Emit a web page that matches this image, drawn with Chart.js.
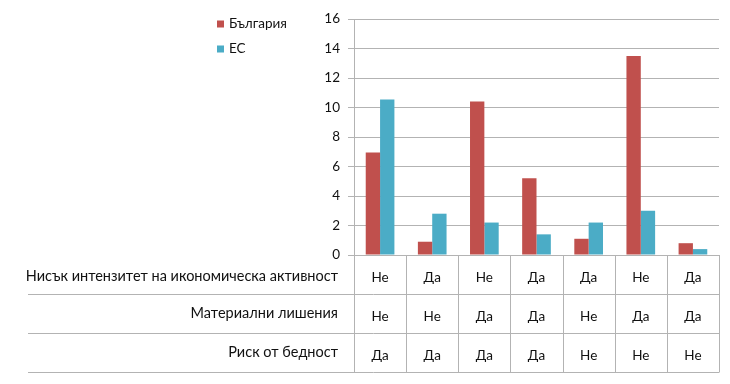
<!DOCTYPE html>
<html>
<head>
<meta charset="utf-8">
<script src="https://cdn.jsdelivr.net/npm/chart.js@4/dist/chart.umd.min.js"></script>
<style>
  html, body { margin: 0; padding: 0; background: #ffffff; }
  #wrap { width: 730px; height: 384px; }
</style>
</head>
<body>
<div id="wrap"><canvas id="c" width="730" height="384"></canvas></div>
<script>
const categories = ["1", "2", "3", "4", "5", "6", "7"];
const bulgaria = [6.95, 0.9, 10.4, 5.2, 1.1, 13.5, 0.8];
const eu = [10.55, 2.8, 2.2, 1.4, 2.2, 3.0, 0.4];
const seriesNames = ["България", "ЕС"];
const yTicks = [0, 2, 4, 6, 8, 10, 12, 14, 16];
const rowLabels = ["Нисък интензитет на икономическа активност", "Материални лишения", "Риск от бедност"];
const rowLow = ["Не", "Да", "Не", "Да", "Да", "Не", "Да"];
const rowDep = ["Не", "Не", "Да", "Да", "Не", "Да", "Да"];
const rowRisk = ["Да", "Да", "Да", "Да", "Не", "Не", "Не"];
const tableRows = [rowLow, rowDep, rowRisk];

const RED = "#C0504D";
const BLUE = "#4BACC6";
const LINE = "#b3b3b3";
const FONT = "Lato, 'Open Sans', sans-serif";
const TEXT = "#111111";

const tablePlugin = {
  id: "tableAndLegend",
  afterDraw(chart) {
    const ctx = chart.ctx;
    const xs = chart.scales.x;
    const ca = chart.chartArea;
    const n = categories.length;
    const step = (xs.right - xs.left) / n;
    const top = ca.bottom;
    const rowH = 39;
    const tableLeft = 28;
    ctx.save();
    ctx.strokeStyle = LINE;
    ctx.lineWidth = 1;
    for (let r = 1; r <= tableRows.length; r++) {
      const y = Math.round(top + r * rowH) + 0.5;
      ctx.beginPath();
      ctx.moveTo(tableLeft, y);
      ctx.lineTo(xs.right, y);
      ctx.stroke();
    }
    for (let i = 0; i <= n; i++) {
      const x = Math.round(xs.left + i * step) + 0.5;
      ctx.beginPath();
      ctx.moveTo(x, top);
      ctx.lineTo(x, top + tableRows.length * rowH + 0.5);
      ctx.stroke();
    }
    ctx.fillStyle = TEXT;
    ctx.textBaseline = "middle";
    ctx.textAlign = "right";
    ctx.font = "14.5px " + FONT;
    rowLabels.forEach((lab, r) => {
      ctx.fillText(lab, 338, top + r * rowH + rowH / 2 + (r === 0 ? 2 : 0));
    });
    ctx.textAlign = "center";
    ctx.font = "13.5px " + FONT;
    tableRows.forEach((row, r) => {
      row.forEach((v, i) => {
        ctx.fillText(v, xs.getPixelForValue(i), top + r * rowH + rowH / 2 + 3);
      });
    });
    const colors = [RED, BLUE];
    const legY = [24, 49];
    ctx.textAlign = "left";
    ctx.font = "13.5px " + FONT;
    seriesNames.forEach((name, k) => {
      ctx.fillStyle = colors[k];
      ctx.fillRect(217, legY[k] - 3.5, 7, 7);
      ctx.fillStyle = TEXT;
      ctx.fillText(name, 229, legY[k]);
    });
    ctx.restore();
  }
};

new Chart(document.getElementById("c"), {
  type: "bar",
  data: {
    labels: categories,
    datasets: [
      { label: seriesNames[0], data: bulgaria, backgroundColor: RED, categoryPercentage: 0.55, barPercentage: 1.0 },
      { label: seriesNames[1], data: eu, backgroundColor: BLUE, categoryPercentage: 0.55, barPercentage: 1.0 }
    ]
  },
  options: {
    responsive: false,
    animation: false,
    layout: { padding: { top: 19, right: 11, bottom: 0, left: 0 } },
    plugins: { legend: { display: false }, tooltip: { enabled: false } },
    scales: {
      x: {
        ticks: { display: false },
        grid: { display: false },
        border: { display: true, color: LINE },
        afterFit(scale) { scale.height = 129; }
      },
      y: {
        min: 0, max: 16,
        afterBuildTicks(scale) { scale.ticks = yTicks.map(v => ({ value: v })); },
        ticks: { color: TEXT, font: { family: FONT, size: 13.5 }, padding: 8 },
        grid: { color: LINE, tickLength: 6 },
        border: { display: true, color: LINE },
        afterFit(scale) { scale.width = 354; }
      }
    }
  },
  plugins: [tablePlugin]
});
</script>
</body>
</html>
